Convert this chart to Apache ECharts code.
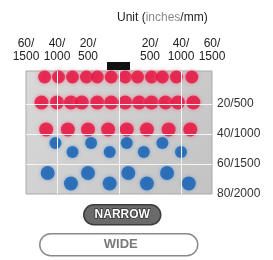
<!DOCTYPE html>
<html>
<head>
<meta charset="utf-8">
<script src="https://cdn.jsdelivr.net/npm/echarts@6/dist/echarts.min.js"></script>
<style>
  html, body { margin: 0; padding: 0; background: #fff; }
  #chart { width: 273px; height: 260px; }
</style>
</head>
<body>
<div id="chart"></div>
<script>
// 刻度 (inches)
var xTicks = [-60, -40, -20, 20, 40, 60];
var yTicks = [20, 40, 60, 80];
var xGrid = [-40, 0, 40];
var yGrid = [20, 40, 60];

// 每一排的点 (inches)
var row1X = [-48, -39, -30, -21, -14, -5, 4, 12, 21, 28, 37, 47];
var row1Y = [2, 2, 2, 2, 2, 2, 2, 2, 2, 2, 2, 2];
var row2X = [-50, -40, -31, -24, -14, -5, 4, 13, 21, 30, 38, 48];
var row2Y = [19, 19, 19, 19, 19, 19, 19, 19, 19, 19, 19, 19];
var row3X = [-47, -33, -20, -7, 5, 18, 32, 46];
var row3Y = [37, 37, 37, 37, 37, 37, 37, 37];
var row4X = [-41, -30, -18, -6, 5, 16, 28, 40];
var row4Y = [46, 52, 46, 52, 46, 52, 46, 52];
var row5X = [-46, -31, -20, -6, 6, 18, 31, 45];
var row5Y = [66, 73, 66, 73, 66, 73, 66, 73];

function pts(xs, ys) {
    return xs.map(function (x, i) { return [x, ys[i]]; });
}
function mm(v) { return Math.abs(v) * 25; }

var red = {
    color: '#e3123f',
    shadowBlur: 4,
    shadowColor: 'rgba(245,90,120,0.85)'
};
var blue = {
    color: '#1560b0',
    shadowBlur: 4,
    shadowColor: 'rgba(90,150,220,0.85)'
};

var chart = echarts.init(document.getElementById('chart'));

var option = {
    animation: false,
    title: {
        text: '{a|Unit (}{b|inches}{a|/mm)}',
        left: 112,
        top: 7,
        textStyle: {
            rich: {
                a: { fontFamily: 'Liberation Sans', fontSize: 12, fontWeight: 'normal', color: '#222' },
                b: { fontFamily: 'Liberation Sans', fontSize: 12, fontWeight: 'normal', color: '#8a8a8a' }
            }
        }
    },
    grid: {
        left: 26,
        top: 71,
        width: 186,
        height: 123,
        show: true,
        borderColor: '#a9a9a9',
        borderWidth: 1,
        backgroundColor: new echarts.graphic.LinearGradient(0, 0, 1, 1, [
            { offset: 0, color: '#d9d9d9' },
            { offset: 1, color: '#c3c3c3' }
        ])
    },
    xAxis: {
        type: 'value',
        position: 'top',
        min: -60,
        max: 60,
        axisLine: { show: false },
        axisTick: { show: false },
        splitLine: { show: false },
        axisLabel: {
            customValues: xTicks,
            margin: 8,
            fontFamily: 'Liberation Sans',
            fontSize: 12,
            lineHeight: 13,
            color: '#222',
            align: 'center',
            formatter: function (v) { return Math.abs(v) + '/\n' + mm(v); }
        }
    },
    yAxis: {
        type: 'value',
        position: 'right',
        inverse: true,
        min: -2,
        max: 80,
        axisLine: { show: false },
        axisTick: { show: false },
        splitLine: { show: false },
        axisLabel: {
            customValues: yTicks,
            margin: 5,
            fontFamily: 'Liberation Sans',
            fontSize: 12,
            color: '#333',
            formatter: function (v) { return v + '/' + mm(v); }
        }
    },
    graphic: [
        // 喷嘴
        { type: 'rect', left: 107, top: 62, shape: { width: 23, height: 8 },
          style: { fill: '#111' }, z: 10 },
        // NARROW
        { type: 'group', left: 83, top: 204, children: [
            { type: 'rect', shape: { width: 77, height: 20, r: 10 },
              style: { fill: '#6a6a6a', stroke: '#3c3c3c', lineWidth: 1.5 } },
            { type: 'text', x: 38.5, y: 10,
              style: { text: 'NARROW', fill: '#fff', stroke: '#333', lineWidth: 1.5,
                       font: 'bold 12px "Liberation Sans"', align: 'center', verticalAlign: 'middle' } }
        ]},
        // WIDE
        { type: 'group', left: 39, top: 233, children: [
            { type: 'rect', shape: { width: 158, height: 22, r: 11 },
              style: { fill: '#fff', stroke: '#8a8a8a', lineWidth: 1.5 } },
            { type: 'text', x: 81, y: 11,
              style: { text: 'WIDE', fill: '#7a7a7a',
                       font: 'bold 13px "Liberation Sans"', align: 'center', verticalAlign: 'middle' } }
        ]}
    ],
    series: [
        {
            type: 'scatter',
            data: [],
            silent: true,
            z: 0,
            markLine: {
                silent: true,
                symbol: 'none',
                label: { show: false },
                lineStyle: { color: '#f4f4f4', width: 1, type: 'solid' },
                data: xGrid.map(function (v) { return { xAxis: v }; })
                    .concat(yGrid.map(function (v) { return { yAxis: v }; }))
            }
        },
        { type: 'scatter', z: 3, data: pts(row1X, row1Y), symbolSize: 13, itemStyle: red },
        { type: 'scatter', z: 3, data: pts(row2X, row2Y), symbolSize: 14, itemStyle: red },
        { type: 'scatter', z: 3, data: pts(row3X, row3Y), symbolSize: 14, itemStyle: red },
        { type: 'scatter', z: 3, data: pts(row4X, row4Y), symbolSize: 12, itemStyle: blue },
        { type: 'scatter', z: 3, data: pts(row5X, row5Y), symbolSize: 14, itemStyle: blue }
    ]
};

chart.setOption(option);
</script>
</body>
</html>
